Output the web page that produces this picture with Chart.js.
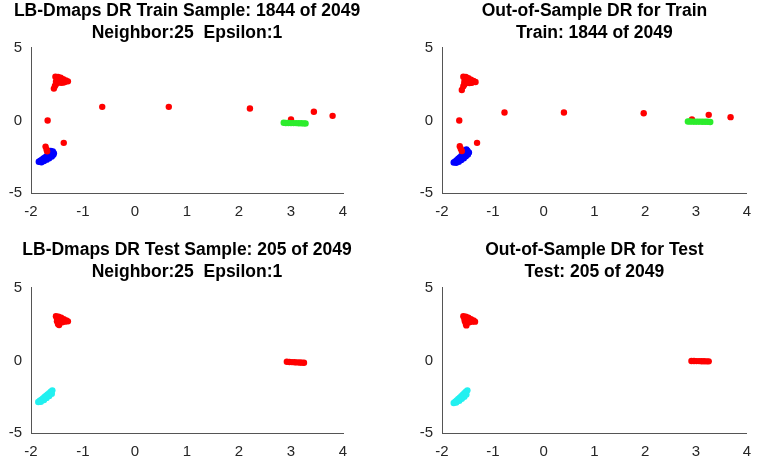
<!DOCTYPE html>
<html>
<head>
<meta charset="utf-8">
<script src="https://cdn.jsdelivr.net/npm/chart.js@4.4.1/dist/chart.umd.min.js"></script>
<style>
  body { margin: 0; background: #fff; }
  .box { position: absolute; }
  .tl { left: 0; top: 0; width: 374px; height: 233px; }
  .tr { left: 383px; top: 0; width: 382px; height: 233px; }
  .bl { left: 0; top: 239px; width: 374px; height: 228px; }
  .br { left: 383px; top: 239px; width: 382px; height: 228px; }
</style>
</head>
<body>
<div class="box tl"><canvas class="chart1"></canvas></div>
<div class="box tr"><canvas class="chart2"></canvas></div>
<div class="box bl"><canvas class="chart3"></canvas></div>
<div class="box br"><canvas class="chart4"></canvas></div>
<script>
// ticks
const xTicks = [-2, -1, 0, 1, 2, 3, 4];
const yTicks = [-5, 0, 5];

// titles
const title1 = ['LB-Dmaps DR Train Sample: 1844 of 2049', 'Neighbor:25  Epsilon:1'];
const title2 = ['Out-of-Sample DR for Train', 'Train: 1844 of 2049'];
const title3 = ['LB-Dmaps DR Test Sample: 205 of 2049', 'Neighbor:25  Epsilon:1'];
const title4 = ['Out-of-Sample DR for Test', 'Test: 205 of 2049'];

// train, LB-Dmaps
const trainRed = [
  [-1.53, 3.02], [-1.48, 3.0], [-1.43, 2.96], [-1.38, 2.85], [-1.33, 2.76], [-1.29, 2.7],
  [-1.5, 2.85], [-1.45, 2.8], [-1.4, 2.72], [-1.35, 2.66], [-1.52, 2.68], [-1.47, 2.62],
  [-1.42, 2.6], [-1.38, 2.62], [-1.46, 2.9], [-1.41, 2.78], [-1.49, 2.72],
  [-1.52, 2.5], [-1.54, 2.38], [-1.56, 2.2],
  [-0.63, 0.94], [0.65, 0.94], [2.21, 0.83], [3.44, 0.6], [3.8, 0.32], [3.0, 0.07],
  [-1.68, 0.0], [-1.37, -1.54], [-1.72, -1.8], [-1.7, -2.0], [-1.69, -2.12]
];
const trainBlue = [
  [-1.85, -2.85], [-1.82, -2.78], [-1.79, -2.7], [-1.76, -2.62], [-1.73, -2.54],
  [-1.7, -2.46], [-1.67, -2.38], [-1.64, -2.3], [-1.61, -2.22], [-1.58, -2.14],
  [-1.8, -2.88], [-1.75, -2.8], [-1.7, -2.7], [-1.65, -2.6], [-1.6, -2.48],
  [-1.57, -2.36], [-1.56, -2.26], [-1.62, -2.1], [-1.77, -2.74], [-1.72, -2.62],
  [-1.67, -2.5], [-1.62, -2.38], [-1.58, -2.24]
];
const trainGreen = [
  [2.86, -0.16], [2.9, -0.17], [2.95, -0.17], [3.0, -0.18], [3.05, -0.18],
  [3.1, -0.18], [3.15, -0.19], [3.2, -0.19], [3.25, -0.2], [3.28, -0.2]
];

// train, out-of-sample
const oosTrainRed = [
  [-1.58, 3.02], [-1.53, 3.0], [-1.48, 2.92], [-1.43, 2.82], [-1.38, 2.72], [-1.34, 2.65],
  [-1.55, 2.85], [-1.5, 2.78], [-1.45, 2.7], [-1.4, 2.64], [-1.56, 2.66], [-1.51, 2.6],
  [-1.46, 2.58], [-1.42, 2.6], [-1.51, 2.9], [-1.46, 2.8], [-1.53, 2.74],
  [-1.56, 2.48], [-1.58, 2.36], [-1.61, 2.1],
  [-0.77, 0.55], [0.4, 0.55], [1.97, 0.5], [3.25, 0.39], [3.68, 0.23], [2.92, 0.07],
  [-1.66, 0.0], [-1.31, -1.54], [-1.65, -1.77], [-1.63, -1.95], [-1.61, -2.1]
];
const oosTrainBlue = [
  [-1.77, -2.9], [-1.74, -2.82], [-1.71, -2.74], [-1.68, -2.64], [-1.65, -2.55],
  [-1.62, -2.45], [-1.59, -2.36], [-1.56, -2.27], [-1.53, -2.18], [-1.5, -2.08],
  [-1.72, -2.92], [-1.67, -2.84], [-1.62, -2.72], [-1.57, -2.6], [-1.53, -2.46],
  [-1.49, -2.34], [-1.47, -2.2], [-1.52, -2.0], [-1.69, -2.78], [-1.64, -2.66],
  [-1.59, -2.52], [-1.55, -2.4], [-1.5, -2.26]
];
const oosTrainGreen = [
  [2.84, -0.07], [2.88, -0.07], [2.93, -0.08], [2.98, -0.08], [3.03, -0.08],
  [3.08, -0.08], [3.13, -0.09], [3.18, -0.09], [3.23, -0.09], [3.28, -0.1]
];

// test, LB-Dmaps
const testRed = [
  [-1.52, 3.05], [-1.47, 3.02], [-1.42, 2.95], [-1.37, 2.85], [-1.32, 2.76], [-1.29, 2.7],
  [-1.5, 2.88], [-1.45, 2.82], [-1.4, 2.74], [-1.35, 2.68], [-1.5, 2.7], [-1.45, 2.62],
  [-1.4, 2.64], [-1.44, 2.92], [-1.48, 2.52], [-1.46, 2.45],
  [2.92, -0.09], [2.97, -0.1], [3.02, -0.11], [3.07, -0.12], [3.12, -0.13], [3.17, -0.14],
  [3.21, -0.15], [3.25, -0.16]
];
const testCyan = [
  [-1.86, -2.86], [-1.83, -2.78], [-1.8, -2.7], [-1.77, -2.61], [-1.74, -2.52],
  [-1.71, -2.43], [-1.68, -2.34], [-1.65, -2.25], [-1.62, -2.16], [-1.59, -2.06],
  [-1.81, -2.84], [-1.75, -2.72], [-1.7, -2.58], [-1.65, -2.44], [-1.6, -2.3]
];

// test, out-of-sample
const oosTestRed = [
  [-1.58, 3.05], [-1.53, 3.02], [-1.48, 2.95], [-1.43, 2.85], [-1.38, 2.76], [-1.35, 2.68],
  [-1.56, 2.88], [-1.51, 2.82], [-1.46, 2.74], [-1.41, 2.68], [-1.55, 2.7], [-1.5, 2.62],
  [-1.46, 2.64], [-1.5, 2.92], [-1.53, 2.52], [-1.52, 2.42],
  [2.91, -0.03], [2.96, -0.03], [3.01, -0.04], [3.06, -0.04], [3.11, -0.05], [3.16, -0.05],
  [3.21, -0.06], [3.25, -0.06]
];
const oosTestCyan = [
  [-1.77, -2.93], [-1.74, -2.84], [-1.71, -2.75], [-1.68, -2.65], [-1.65, -2.56],
  [-1.62, -2.46], [-1.59, -2.36], [-1.56, -2.26], [-1.53, -2.16], [-1.5, -2.06],
  [-1.72, -2.9], [-1.66, -2.78], [-1.61, -2.64], [-1.56, -2.5], [-1.52, -2.34]
];

const RED = '#ff0000';
const BLUE = '#0000ff';
const GREEN = '#2cec2c';
const CYAN = '#22f0f0';
const FONT = "'Liberation Sans', Arial, sans-serif";

function toXY(list) {
  return list.map(p => ({ x: p[0], y: p[1] }));
}

function set(list, color) {
  return {
    data: toXY(list),
    backgroundColor: color,
    borderColor: color,
    borderWidth: 0,
    pointRadius: 3.2,
    pointHoverRadius: 3.2
  };
}

function makeChart(el, title, datasets, lay) {
  return new Chart(el, {
    type: 'scatter',
    data: { datasets: datasets },
    options: {
      responsive: true,
      maintainAspectRatio: false,
      animation: false,
      layout: {
        autoPadding: false,
        padding: 0
      },
      plugins: {
        legend: { display: false },
        tooltip: { enabled: false },
        title: {
          display: true,
          text: title,
          fullSize: lay.full,
          color: '#000',
          font: { family: FONT, size: 17.5, weight: 'bold', lineHeight: 1.257 },
          padding: { top: 0, bottom: lay.titleGap }
        }
      },
      scales: {
        x: {
          type: 'linear',
          min: -2,
          max: 4,
          afterBuildTicks: s => { s.ticks = xTicks.map(v => ({ value: v })); },
          afterFit: s => { s.height = lay.xh; },
          border: { display: true, color: '#555', width: 1 },
          grid: { drawOnChartArea: false, drawTicks: true, tickLength: -4, color: 'rgba(0,0,0,0)' },
          ticks: { color: '#262626', padding: 14, font: { family: FONT, size: 15 } }
        },
        y: {
          type: 'linear',
          min: -5,
          max: 5,
          afterBuildTicks: s => { s.ticks = yTicks.map(v => ({ value: v })); },
          afterFit: s => { s.width = lay.yw; },
          border: { display: true, color: '#555', width: 1 },
          grid: { drawOnChartArea: false, drawTicks: true, tickLength: -4, color: 'rgba(0,0,0,0)' },
          ticks: { color: '#262626', padding: 13, font: { family: FONT, size: 15 } }
        },
        // empty right-hand spacer so the plot area sits where the original does
        yr: {
          type: 'linear',
          position: 'right',
          afterFit: s => { s.width = lay.rw; },
          border: { display: false },
          grid: { display: false },
          ticks: { display: false }
        }
      }
    }
  });
}

makeChart(document.querySelector('.chart1'), title1,
  [set(trainGreen, GREEN), set(trainRed, RED), set(trainBlue, BLUE)],
  { full: true, rw: 31, titleGap: 4, xh: 40, yw: 31 });

makeChart(document.querySelector('.chart2'), title2,
  [set(oosTrainGreen, GREEN), set(oosTrainRed, RED), set(oosTrainBlue, BLUE)],
  { full: false, rw: 9, titleGap: 4, xh: 40, yw: 59 });

makeChart(document.querySelector('.chart3'), title3,
  [set(testRed, RED), set(testCyan, CYAN)],
  { full: true, rw: 31, titleGap: 5, xh: 34, yw: 31 });

makeChart(document.querySelector('.chart4'), title4,
  [set(oosTestRed, RED), set(oosTestCyan, CYAN)],
  { full: false, rw: 9, titleGap: 5, xh: 34, yw: 59 });
</script>
</body>
</html>
